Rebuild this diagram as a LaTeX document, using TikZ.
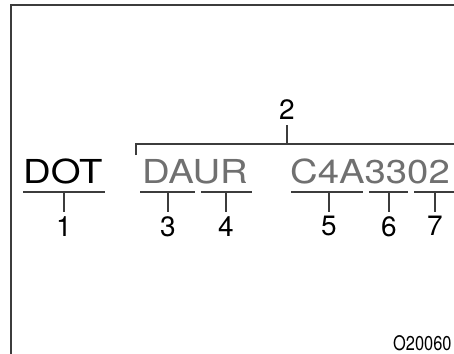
\documentclass[tikz,border=0pt]{standalone}
\usepackage{fontspec}
\setmainfont{TeX Gyre Heros}
\newfontfamily\codefont[FakeStretch=1.16]{TeX Gyre Heros}
\newfontfamily\reffont[FakeStretch=0.82]{TeX Gyre Heros}
\usetikzlibrary{positioning}
\definecolor{codegray}{RGB}{112,112,112}
\definecolor{linegray}{RGB}{60,60,60}

\begin{document}
\begin{tikzpicture}[x=1pt,y=-1pt,
	code/.style={font=\codefont\fontsize{33}{33}\selectfont, inner sep=0pt, anchor=base west},
	num/.style={font=\fontsize{28}{28}\selectfont, inner sep=0pt},
	rule/.style={draw=linegray, line width=1.5pt}
	]
	\useasboundingbox (0,0) rectangle (454,353);
	\clip (0,0) rectangle (454,353);
	\fill[white] (0,0) rectangle (454,353);
	\draw[linegray, line width=1.3pt] (11,360) |- (460,5);
	% tyre code
	\node[code] (dot) at (23,183) {DOT};
	\node[code, text=codegray] (plant) at (142,183) {DAUR};
	\node[code, text=codegray] (date) at (290,183) {C4A3302};
	% underlines and numbers
	\foreach \a/\b/\t/\n in {23/105/64/1, 140/195/168/3, 201/252/226/4,
		291/363/329/5, 369/408/389/6, 414/470/435/7} {
		\coordinate (l\n) at (\a,192);
		\coordinate (r\n) at (\b,192);
		\coordinate (t\n) at (\t,192);
		\node[num, anchor=north] (n\n) at (\t,216) {\n};
		\draw[rule] (l\n) -- (r\n);
		\draw[rule, shorten >=4pt] (t\n) -- (n\n);
	}
	% bracket
	\coordinate (bl) at (136,155);
	\coordinate (br) at (470,144);
	\coordinate (bt) at (287,144);
	\node[num, anchor=south] (n2) at (287,120) {2};
	\draw[rule] (bl) |- (br);
	\draw[rule, shorten >=5pt] (bt) -- (n2);
	\node[font=\reffont\fontsize{20}{20}\selectfont, inner sep=0pt, anchor=base west] (ref) at (393,350) {O20060};
\end{tikzpicture}
\end{document}
